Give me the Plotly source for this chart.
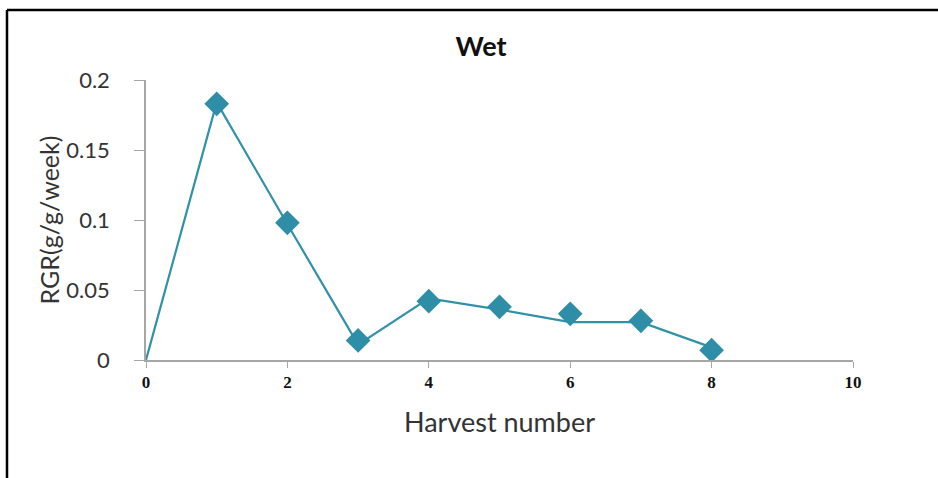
import plotly.graph_objects as go

# Data
harvest_line = [0, 1, 2, 3, 4, 5, 6, 7, 8]
rgr_line = [0, 0.184, 0.097, 0.011, 0.044, 0.036, 0.027, 0.027, 0.009]
harvest_pts = [1, 2, 3, 4, 5, 6, 7, 8]
rgr_pts = [0.183, 0.098, 0.014, 0.042, 0.038, 0.033, 0.028, 0.007]
x_ticks = [0, 2, 4, 6, 8, 10]
y_ticks = [0, 0.05, 0.1, 0.15, 0.2]
y_tick_text = ["0", "0.05", "0.1", "0.15", "0.2"]

TEAL = "#3191a8"
AXIS = "#a6a6a6"

fig = go.Figure()
fig.add_trace(go.Scatter(x=harvest_line, y=rgr_line, mode="lines",
                         line=dict(color=TEAL, width=2.2), cliponaxis=False,
                         showlegend=False, hoverinfo="skip"))
fig.add_trace(go.Scatter(x=harvest_pts, y=rgr_pts, mode="markers",
                         marker=dict(symbol="diamond", size=19, color="#2f8ea7",
                                     line=dict(width=0)),
                         cliponaxis=False, showlegend=False))

L, R, T, B = 146, 85, 80, 118
W, H = 938, 478
pw, ph = W - L - R, H - T - B

def px(xp):
    return (xp - L) / pw

def py(yp):
    return (H - B - yp) / ph

SANS = "Lato, Open Sans, sans-serif"

fig.update_layout(
    width=W, height=H,
    margin=dict(l=L, r=R, t=T, b=B),
    paper_bgcolor="white", plot_bgcolor="white",
    title=dict(text="<b>Wet</b>", x=px(481), xref="paper", xanchor="center",
               y=1 - 47 / H, yanchor="middle", yref="container",
               font=dict(family=SANS, size=27, color="#111")),
    xaxis=dict(range=[0, 10], tickvals=x_ticks, ticktext=[str(v) for v in x_ticks],
               showgrid=False, zeroline=False, showline=True, linecolor=AXIS, linewidth=1.5,
               ticks="outside", ticklen=6, tickcolor=AXIS, tickwidth=1.2,
               tickfont=dict(family="Liberation Serif, serif", size=17, color="#111", weight="bold"),
               title=dict(text="Harvest number", standoff=22,
                          font=dict(family=SANS, size=27, color="#333"))),
    yaxis=dict(range=[0, 0.2], tickvals=y_ticks, ticktext=y_tick_text,
               showgrid=False, zeroline=False, showline=True, linecolor=AXIS, linewidth=1.5,
               ticks="outside", ticklen=10, tickcolor=AXIS, tickwidth=1.2,
               ticklabelstandoff=20,
               tickfont=dict(family=SANS, size=22, color="#333"),
               title=dict(text="RGR(g/g/week)", standoff=0,
                          font=dict(family=SANS, size=25, color="#333"))),
    shapes=[
        dict(type="line", xref="paper", yref="paper", x0=px(7), x1=px(7),
             y0=py(10), y1=py(500), line=dict(color="black", width=2.5)),
        dict(type="line", xref="paper", yref="paper", x0=px(7), x1=px(960),
             y0=py(10), y1=py(10), line=dict(color="black", width=2.5)),
    ],
)

fig.write_html("out.html", config={"displayModeBar": False},
               post_script="document.body.style.margin='0';document.body.style.overflow='hidden';")
